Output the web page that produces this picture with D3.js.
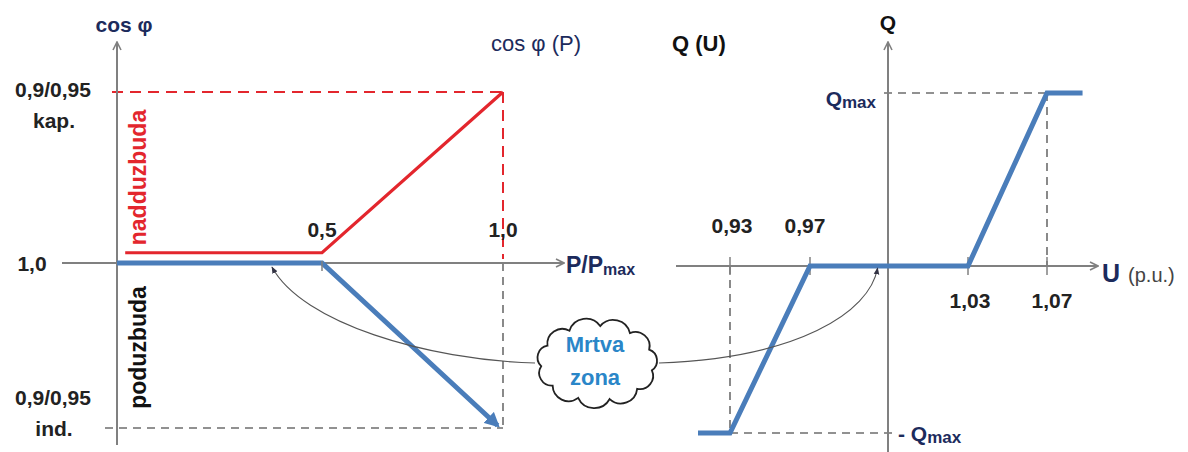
<!DOCTYPE html>
<html>
<head>
<meta charset="utf-8">
<script src="https://cdn.jsdelivr.net/npm/d3@7/dist/d3.min.js"></script>
<style>
  body { margin: 0; background: #fff; }
  svg { display: block; }
  text { font-family: "Liberation Sans", Arial, sans-serif; }
</style>
</head>
<body>
<div id="chart"></div>
<script>
// cos phi (P) characteristic, left panel
const pTicks = [0.5, 1.0];
const pTickLabels = ["0,5", "1,0"];
const cosLevels = [1, 0, -1];            // kap., 1,0, ind.
const cosLabels = [["0,9/0,95", "kap."], ["1,0"], ["0,9/0,95", "ind."]];
const overExcited = [[0.02, 0.06], [0.5, 0.06], [1.0, 1.0]];   // red, nadduzbuda
const underExcited = [[0.0, 0.0], [0.5, 0.0], [0.985, -0.985]]; // blue, poduzbuda

// Q (U) characteristic, right panel
const uTicks = [0.93, 0.97, 1.03, 1.07];
const uTickLabels = ["0,93", "0,97", "1,03", "1,07"];
const qCurve = [[0.914, -1], [0.93, -1], [0.97, 0], [1.03, 0], [1.07, 1], [1.088, 1]];

// dead-zone arrows end on these points of each curve
const deadZoneP = 0.378;
const deadZoneU = 0.996;

const width = 1188, height = 452;
const navy = "#1c2b5c", red = "#e3262d", blue = "#4a7dba", grey = "#808080", dark = "#222";

const svg = d3.select("#chart").append("svg")
    .attr("width", width)
    .attr("height", height);

const defs = svg.append("defs");
defs.append("marker")
    .attr("id", "axisArrow")
    .attr("viewBox", "0 0 10 10")
    .attr("refX", 9).attr("refY", 5)
    .attr("markerWidth", 10).attr("markerHeight", 10)
    .attr("markerUnits", "userSpaceOnUse")
    .attr("orient", "auto")
    .append("path")
    .attr("d", "M1,1 L9,5 L1,9")
    .attr("fill", "none")
    .attr("stroke", grey)
    .attr("stroke-width", 1.6);
defs.append("marker")
    .attr("id", "smallArrow")
    .attr("viewBox", "0 0 10 10")
    .attr("refX", 9).attr("refY", 5)
    .attr("markerWidth", 7).attr("markerHeight", 7)
    .attr("markerUnits", "userSpaceOnUse")
    .attr("orient", "auto")
    .append("path")
    .attr("d", "M0,1 L10,5 L0,9 Z")
    .attr("fill", "#334");
defs.append("marker")
    .attr("id", "blueArrow")
    .attr("viewBox", "0 0 10 10")
    .attr("refX", 8).attr("refY", 5)
    .attr("markerWidth", 3).attr("markerHeight", 3)
    .attr("orient", "auto")
    .append("path")
    .attr("d", "M0,0 L10,5 L0,10 Z")
    .attr("fill", blue);

// ---- left panel scales ----
const xP = d3.scaleLinear().domain([0, 0.5, 1]).range([117, 322, 503]);
const yC = d3.scaleLinear().domain([-1, 0, 1]).range([428, 263, 92]);

// ---- right panel scales ----
const xU = d3.scaleLinear().domain([0.93, 0.97, 1.0, 1.03, 1.07]).range([730, 810, 888, 968, 1047]);
const yQ = d3.scaleLinear().domain([-1, 0, 1]).range([433, 266, 93]);

const line = (sx, sy) => d3.line().x(d => sx(d[0])).y(d => sy(d[1]));

function dashed(g, x1, y1, x2, y2, color, w, dash) {
    g.append("line")
        .attr("x1", x1).attr("y1", y1).attr("x2", x2).attr("y2", y2)
        .attr("stroke", color)
        .attr("stroke-width", w)
        .attr("stroke-dasharray", dash);
}

// =============== LEFT PANEL ===============
const left = svg.append("g");

// guide lines
dashed(left, xP(0) - 5, yC(1), xP(1), yC(1), red, 2, "11,7");
dashed(left, xP(1), yC(1), xP(1), yC(0) - 4, red, 2, "11,7");
dashed(left, xP(1), yC(0), xP(1), yC(-1), "#6d6d6d", 1.6, "8,6");
dashed(left, xP(0) - 12, yC(-1), xP(1), yC(-1), "#6d6d6d", 1.6, "8,6");

// axes
left.append("line")
    .attr("x1", xP(0)).attr("y1", 445).attr("x2", xP(0)).attr("y2", 42)
    .attr("stroke", grey).attr("stroke-width", 2)
    .attr("marker-end", "url(#axisArrow)");
left.append("line")
    .attr("x1", 62).attr("y1", yC(0)).attr("x2", 564).attr("y2", yC(0))
    .attr("stroke", grey).attr("stroke-width", 2)
    .attr("marker-end", "url(#axisArrow)");

// curves
left.append("path")
    .datum(overExcited)
    .attr("d", line(xP, yC))
    .attr("fill", "none")
    .attr("stroke", red)
    .attr("stroke-width", 3.2);
left.append("path")
    .datum(underExcited)
    .attr("d", line(xP, yC))
    .attr("fill", "none")
    .attr("stroke", blue)
    .attr("stroke-width", 5)
    .attr("marker-end", "url(#blueArrow)");

// ticks
left.selectAll(".ptick")
    .data(pTicks.slice(0, 1))
    .join("line")
    .attr("x1", d => xP(d)).attr("x2", d => xP(d))
    .attr("y1", yC(0) - 2).attr("y2", yC(0) + 8)
    .attr("stroke", grey).attr("stroke-width", 1.5);

left.selectAll(".plabel")
    .data(pTicks)
    .join("text")
    .attr("x", d => xP(d))
    .attr("y", yC(0) - 26)
    .attr("text-anchor", "middle")
    .attr("font-size", 21)
    .attr("font-weight", "bold")
    .attr("fill", dark)
    .text((d, i) => pTickLabels[i]);

// y labels
cosLevels.forEach((v, i) => {
    const lines = cosLabels[i];
    const t = left.append("text")
        .attr("text-anchor", "middle")
        .attr("font-size", 21)
        .attr("font-weight", "bold")
        .attr("fill", dark);
    if (lines.length === 1) {
        t.attr("x", 32).attr("y", yC(v) + 8).text(lines[0]);
    } else {
        const y0 = v > 0 ? yC(v) + 5 : yC(v) - 23;
        t.append("tspan").attr("x", 53).attr("y", y0).text(lines[0]);
        t.append("tspan").attr("x", 54).attr("y", y0 + 31).text(lines[1]);
    }
});

// rotated region labels
left.append("text")
    .attr("transform", `translate(${xP(0) + 29},${(yC(1) + yC(0)) / 2}) rotate(-90)`)
    .attr("text-anchor", "middle")
    .attr("font-size", 23)
    .attr("font-weight", "bold")
    .attr("fill", red)
    .text("nadduzbuda");
left.append("text")
    .attr("transform", `translate(${xP(0) + 29},${(yC(-1) + yC(0)) / 2 + 2}) rotate(-90)`)
    .attr("text-anchor", "middle")
    .attr("font-size", 23)
    .attr("font-weight", "bold")
    .attr("fill", "#111")
    .text("poduzbuda");

// titles
left.append("text")
    .attr("x", 124).attr("y", 32)
    .attr("text-anchor", "middle")
    .attr("font-family", "'Open Sans', sans-serif")
    .attr("font-size", 21)
    .attr("font-weight", "bold")
    .attr("fill", navy)
    .text("cos φ");
left.append("text")
    .attr("x", 536).attr("y", 51)
    .attr("text-anchor", "middle")
    .attr("font-family", "'Open Sans', sans-serif")
    .attr("font-size", 22)
    .attr("fill", navy)
    .text("cos φ (P)");

const pLabel = left.append("text")
    .attr("x", 566).attr("y", yC(0) + 10)
    .attr("font-size", 23)
    .attr("font-weight", "bold")
    .attr("fill", navy);
pLabel.append("tspan").text("P/P");
pLabel.append("tspan").attr("font-size", 16).attr("dy", 2).text("max");

// =============== RIGHT PANEL ===============
const right = svg.append("g");

dashed(right, xU(1.0) - 4, yQ(1), xU(1.07), yQ(1), "#6d6d6d", 1.6, "8,6");
dashed(right, xU(1.07), yQ(1), xU(1.07), yQ(0), "#6d6d6d", 1.6, "8,6");
dashed(right, xU(0.93), yQ(-1), xU(1.0) + 5, yQ(-1), "#6d6d6d", 1.6, "8,6");
dashed(right, xU(0.93), yQ(0), xU(0.93), yQ(-1), "#6d6d6d", 1.6, "8,6");

right.append("line")
    .attr("x1", xU(1.0)).attr("y1", 452).attr("x2", xU(1.0)).attr("y2", 42)
    .attr("stroke", grey).attr("stroke-width", 2)
    .attr("marker-end", "url(#axisArrow)");
right.append("line")
    .attr("x1", 676).attr("y1", yQ(0)).attr("x2", 1098).attr("y2", yQ(0))
    .attr("stroke", grey).attr("stroke-width", 2)
    .attr("marker-end", "url(#axisArrow)");

right.selectAll(".utick")
    .data(uTicks)
    .join("line")
    .attr("x1", d => xU(d)).attr("x2", d => xU(d))
    .attr("y1", yQ(0) - 9).attr("y2", yQ(0) + 9)
    .attr("stroke", grey).attr("stroke-width", 1.5);

right.append("path")
    .datum(qCurve)
    .attr("d", line(xU, yQ))
    .attr("fill", "none")
    .attr("stroke", blue)
    .attr("stroke-width", 5);

right.selectAll(".ulabel")
    .data(uTicks)
    .join("text")
    .attr("x", d => xU(d) + (d === 0.97 ? -5 : d === 1.07 ? 5 : 2))
    .attr("y", d => d < 1 ? yQ(0) - 33 : yQ(0) + 42)
    .attr("text-anchor", "middle")
    .attr("font-size", 21)
    .attr("font-weight", "bold")
    .attr("fill", dark)
    .text((d, i) => uTickLabels[i]);

// Q labels
const qmaxTop = right.append("text")
    .attr("x", xU(1.0) - 12).attr("y", yQ(1) + 13)
    .attr("text-anchor", "end")
    .attr("font-size", 21)
    .attr("font-weight", "bold")
    .attr("fill", navy);
qmaxTop.append("tspan").text("Q");
qmaxTop.append("tspan").attr("font-size", 17).attr("dy", 2).text("max");

const qmaxBot = right.append("text")
    .attr("x", xU(1.0) + 10).attr("y", yQ(-1) + 8)
    .attr("font-size", 21)
    .attr("font-weight", "bold")
    .attr("fill", navy);
qmaxBot.append("tspan").text("- Q");
qmaxBot.append("tspan").attr("font-size", 17).attr("dy", 2).text("max");

right.append("text")
    .attr("x", xU(1.0)).attr("y", 30)
    .attr("text-anchor", "middle")
    .attr("font-size", 21)
    .attr("font-weight", "bold")
    .attr("fill", "#111")
    .text("Q");
right.append("text")
    .attr("x", 672).attr("y", 51)
    .attr("font-size", 22)
    .attr("font-weight", "bold")
    .attr("fill", "#111")
    .text("Q (U)");

const uLabel = right.append("text")
    .attr("x", 1102).attr("y", yQ(0) + 16)
    .attr("fill", navy);
uLabel.append("tspan").attr("font-size", 25).attr("font-weight", "bold").text("U");
uLabel.append("tspan").attr("font-size", 20).attr("fill", "#444").attr("dx", 8).text("(p.u.)");

// =============== DEAD ZONE CLOUD ===============
const cx = 597, cy = 363, rx = 56, ry = 37, lobes = 11;
const pts = d3.range(lobes).map(i => {
    const a = (i / lobes) * 2 * Math.PI + 0.2;
    return [cx + rx * Math.cos(a), cy + ry * Math.sin(a)];
});
let cloudD = `M${pts[0][0]},${pts[0][1]}`;
pts.forEach((p, i) => {
    const q = pts[(i + 1) % lobes];
    const chord = Math.hypot(q[0] - p[0], q[1] - p[1]);
    const r = chord * 0.56;
    cloudD += ` A${r},${r} 0 0 1 ${q[0]},${q[1]}`;
});

const arrows = svg.append("g")
    .attr("fill", "none")
    .attr("stroke", "#555")
    .attr("stroke-width", 1.1);
arrows.append("path")
    .attr("d", `M${cx - rx - 6},${cy} C${cx - 170},${cy - 3} ${xP(deadZoneP) + 30},${cy - 40} ${xP(deadZoneP)},${yC(0) + 4}`)
    .attr("marker-end", "url(#smallArrow)");
arrows.append("path")
    .attr("d", `M${cx + rx + 6},${cy} C${cx + 200},${cy - 5} ${xU(deadZoneU) - 8},${cy - 50} ${xU(deadZoneU)},${yQ(0) + 2}`)
    .attr("marker-end", "url(#smallArrow)");

svg.append("path")
    .attr("d", cloudD + " Z")
    .attr("fill", "#fff")
    .attr("stroke", "#222")
    .attr("stroke-width", 1.8);

svg.append("text")
    .attr("x", cx - 2).attr("y", cy - 11)
    .attr("text-anchor", "middle")
    .attr("font-size", 22)
    .attr("font-weight", "bold")
    .attr("fill", "#2a86c8")
    .text("Mrtva");
svg.append("text")
    .attr("x", cx - 2).attr("y", cy + 22)
    .attr("text-anchor", "middle")
    .attr("font-size", 22)
    .attr("font-weight", "bold")
    .attr("fill", "#2a86c8")
    .text("zona");
</script>
</body>
</html>
